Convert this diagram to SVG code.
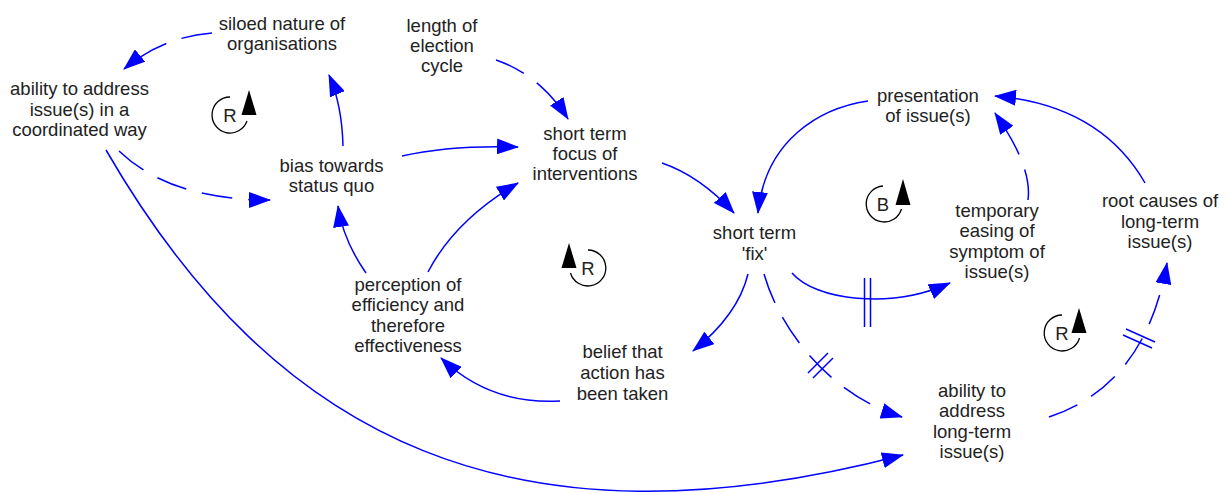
<svg xmlns="http://www.w3.org/2000/svg" width="1229" height="493" viewBox="0 0 1229 493">
<style>
text{font-family:"Liberation Sans",Arial,sans-serif;font-size:18.5px;fill:#222;text-anchor:middle}
.c{fill:none;stroke:#0000FF;stroke-width:1.5}
.d{stroke-dasharray:31 16}
.a{marker-end:url(#ah)}
.m{stroke:#0000FF;stroke-width:1.5;fill:none}
.lp{fill:none;stroke:#000;stroke-width:1.3}
.lt{fill:#000}
</style>
<defs>
<marker id="ah" markerUnits="userSpaceOnUse" viewBox="0 0 22 16" markerWidth="22" markerHeight="16" refX="21" refY="8" orient="auto">
<path d="M0,0 L22,8 L0,16 z" fill="#0000FF"/>
</marker>
</defs>
<rect width="1229" height="493" fill="#fff"/>
<g id="connectors">
<path class="c d a" d="M212,33 Q162,37 124,69"/>
<path class="c d a" d="M119,151 Q170,200 270,200"/>
<path class="c a" d="M343,146 Q342,105 329,75"/>
<path class="c a" d="M106,150 C276,444 516,556 903,455"/>
<path class="c d a" d="M496,60 Q540,75 568,119"/>
<path class="c a" d="M402,156 Q450,145 518,147"/>
<path class="c a" d="M366,273 Q343,240 338,206"/>
<path class="c a" d="M428,272 Q455,220 518,183"/>
<path class="c a" d="M662,163 Q700,176 734,213"/>
<path class="c a" d="M868,101 C820,108 765,140 758,213"/>
<path class="c d a" d="M1028,200 C1032,170 1010,135 995,113"/>
<path class="c a" d="M1145,183 Q1100,105 995,96"/>
<path class="c a" d="M792,273 C815,300 890,310 950,283"/>
<path class="m" d="M864.5,278 V327 M870.5,278 V327"/>
<path class="c a" d="M748,274 Q738,315 693,351"/>
<path class="c a" d="M560,401 Q490,405 441,358"/>
<path class="c d a" d="M764,274 C780,330 830,395 902,417"/>
<path class="m" d="M808,373 L828,353 M813,378 L833,358"/>
<path class="c d a" d="M1049,417 C1100,400 1150,360 1167,263"/>
<path class="m" d="M1126,329 L1155,342 M1123,335 L1152,348"/>
</g>
<g id="loop-r1">
<path class="lp" d="M230,97 A18,18 0 1 0 247,121"/>
<path class="lt" d="M249,90 L256.5,115 L241.5,115 z"/>
<text x="230" y="121.5">R</text>
</g>
<g id="loop-r2">
<path class="lp" d="M588,250 A18,18 0 1 1 570.5,273"/>
<path class="lt" d="M569,243 L576.5,268 L561.5,268 z"/>
<text x="588" y="274.5">R</text>
</g>
<g id="loop-b">
<path class="lp" d="M883,186 A18,18 0 1 0 901.5,209"/>
<path class="lt" d="M903,179 L910.5,205 L895.5,205 z"/>
<text x="883" y="210.5">B</text>
</g>
<g id="loop-r3">
<path class="lp" d="M1062,315 A18,18 0 1 0 1079.5,338"/>
<path class="lt" d="M1079,308 L1086.5,333 L1071.5,333 z"/>
<text x="1062" y="339.5">R</text>
</g>
<g id="siloed"><text x="282" y="30">siloed nature of</text><text x="282" y="50">organisations</text></g>
<g id="ability-coordinated"><text x="79.5" y="95">ability to address</text><text x="79.5" y="115.5">issue(s) in a</text><text x="79.5" y="136">coordinated way</text></g>
<g id="bias"><text x="331.5" y="172">bias towards</text><text x="331.5" y="192">status quo</text></g>
<g id="election"><text x="442" y="31.5">length of</text><text x="442" y="52">election</text><text x="442" y="72">cycle</text></g>
<g id="focus"><text x="585" y="140">short term</text><text x="585" y="160">focus of</text><text x="585" y="180">interventions</text></g>
<g id="presentation"><text x="928" y="101.5">presentation</text><text x="928" y="122">of issue(s)</text></g>
<g id="temporary"><text x="997" y="217">temporary</text><text x="997" y="237">easing of</text><text x="997" y="257.5">symptom of</text><text x="997" y="278">issue(s)</text></g>
<g id="root-causes"><text x="1160" y="207">root causes of</text><text x="1160" y="227.5">long-term</text><text x="1160" y="248">issue(s)</text></g>
<g id="fix"><text x="754.5" y="239">short term</text><text x="754.5" y="259.5">'fix'</text></g>
<g id="perception"><text x="408" y="291">perception of</text><text x="408" y="311">efficiency and</text><text x="408" y="331.5">therefore</text><text x="408" y="352">effectiveness</text></g>
<g id="belief"><text x="622.5" y="358">belief that</text><text x="622.5" y="379">action has</text><text x="622.5" y="400">been taken</text></g>
<g id="ability-longterm"><text x="972" y="397">ability to</text><text x="972" y="417">address</text><text x="972" y="437.5">long-term</text><text x="972" y="458">issue(s)</text></g>
</svg>
